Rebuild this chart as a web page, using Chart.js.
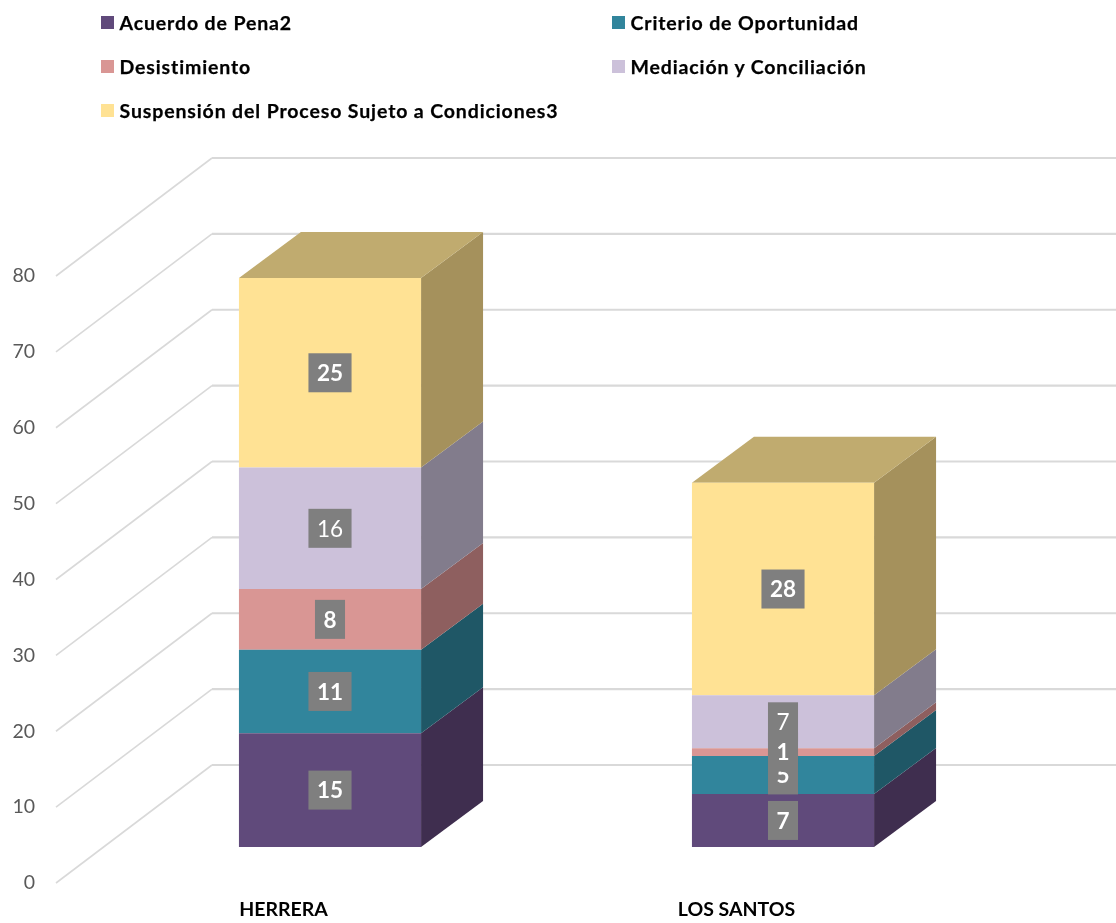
<!DOCTYPE html>
<html lang="es">
<head>
<meta charset="utf-8">
<title>Salidas alternas por provincia</title>
<script src="https://cdn.jsdelivr.net/npm/chart.js@4"></script>
<style>
    html, body { margin: 0; padding: 0; background: #fff; }
    #contenedor { position: relative; width: 1116px; height: 923px; overflow: hidden; }
    #grafico { position: absolute; left: 0; top: 0; }
    #leyenda {
        position: absolute; left: 101px; top: 1px;
        display: grid; grid-template-columns: 511px 500px; grid-auto-rows: 43.7px;
        font: 700 19.5px Lato, sans-serif; letter-spacing: 0.87px; color: #000;
        -webkit-text-stroke: 0.25px #000;
    }
    #leyenda div { display: flex; align-items: center; white-space: nowrap; }
    #leyenda span { display: inline-block; width: 13px; height: 13px; margin-right: 5.5px; flex: none; }
</style>
</head>
<body>
<div id="contenedor">
    <canvas id="grafico" width="1116" height="923"></canvas>
    <div id="leyenda"></div>
</div>
<script>
const provincias = ['HERRERA', 'LOS SANTOS'];
const series = ['Acuerdo de Pena2', 'Criterio de Oportunidad', 'Desistimiento', 'Mediación y Conciliación', 'Suspensión del Proceso Sujeto a Condiciones3'];
const acuerdo = [15, 7];
const criterio = [11, 5];
const desistimiento = [8, 1];
const mediacion = [16, 7];
const suspension = [25, 28];
const ticksY = [0, 10, 20, 30, 40, 50, 60, 70, 80];

const colores = ['#604a7b', '#31859c', '#d99694', '#ccc1da', '#ffe294'];
const coloresLado = ['#3f2e4f', '#1f5766', '#8e5f5f', '#827c8c', '#a5915c'];
const colorTapa = '#c0ab6f';
const pesoEtiqueta = ['bold', 'bold', 'bold', 'normal', 'bold'];

// Profundidad de la perspectiva
const fondoX = 62, fondoY = -46;
const paredIzq = 56, paredFondo = 212, paredDer = 1116;

const perspectiva = {
    id: 'perspectiva',
    beforeDatasetsDraw(chart) {
        const ctx = chart.ctx;
        const y = chart.scales.y;

        // Lineas del lateral y de la pared del fondo
        ctx.save();
        ctx.strokeStyle = '#d9d9d9';
        ticksY.forEach((t) => {
            const py = y.getPixelForValue(t);
            ctx.lineWidth = 1.6;
            ctx.beginPath();
            ctx.moveTo(paredIzq, py);
            ctx.lineTo(paredFondo, py - 118);
            ctx.stroke();
            ctx.lineWidth = 2.2;
            ctx.beginPath();
            ctx.moveTo(paredFondo, py - 118);
            ctx.lineTo(paredDer, py - 118);
            ctx.stroke();
        });

        // Caras laterales y tapa
        chart.data.datasets.forEach((ds, i) => {
            chart.getDatasetMeta(i).data.forEach((bar) => {
                const der = bar.x + bar.width / 2;
                const izq = bar.x - bar.width / 2;
                ctx.fillStyle = coloresLado[i];
                ctx.beginPath();
                ctx.moveTo(der, bar.base);
                ctx.lineTo(der + fondoX, bar.base + fondoY);
                ctx.lineTo(der + fondoX, bar.y + fondoY);
                ctx.lineTo(der, bar.y);
                ctx.closePath();
                ctx.fill();
                if (i === chart.data.datasets.length - 1) {
                    ctx.fillStyle = colorTapa;
                    ctx.beginPath();
                    ctx.moveTo(izq, bar.y);
                    ctx.lineTo(izq + fondoX, bar.y + fondoY);
                    ctx.lineTo(der + fondoX, bar.y + fondoY);
                    ctx.lineTo(der, bar.y);
                    ctx.closePath();
                    ctx.fill();
                }
            });
        });
        ctx.restore();
    },
    afterDatasetsDraw(chart) {
        const ctx = chart.ctx;
        ctx.save();
        ctx.textAlign = 'center';
        ctx.textBaseline = 'middle';
        chart.data.datasets.forEach((ds, i) => {
            ctx.font = pesoEtiqueta[i] + ' 22.5px Lato, sans-serif';
            chart.getDatasetMeta(i).data.forEach((bar, j) => {
                const texto = String(ds.data[j]);
                const ancho = ctx.measureText(texto).width + 17;
                const centroY = (bar.y + bar.base) / 2;
                ctx.fillStyle = '#7f7f7f';
                ctx.fillRect(bar.x - ancho / 2, centroY - 19.5, ancho, 39);
                ctx.fillStyle = '#fff';
                ctx.fillText(texto, bar.x, centroY + 1);
            });
        });
        ctx.restore();
    }
};

const datos = [acuerdo, criterio, desistimiento, mediacion, suspension];

new Chart(document.getElementById('grafico').getContext('2d'), {
    type: 'bar',
    data: {
        labels: provincias,
        datasets: series.map((nombre, i) => ({
            label: nombre,
            data: datos[i],
            backgroundColor: colores[i],
            yAxisID: 'barras',
            barPercentage: 1,
            categoryPercentage: 0.402
        }))
    },
    plugins: [perspectiva],
    options: {
        responsive: false,
        maintainAspectRatio: false,
        animation: false,
        layout: { padding: { top: 276, right: 106.5, bottom: 0, left: 0 } },
        plugins: { legend: { display: false }, tooltip: { enabled: false } },
        scales: {
            x: {
                stacked: true,
                grid: { display: false, drawTicks: false },
                border: { display: false },
                afterFit(scale) { scale.height = 40; },
                ticks: {
                    labelOffset: -46.5,
                    padding: 15.3,
                    maxRotation: 0,
                    color: '#000',
                    font: { family: 'Lato, sans-serif', size: 19.5, weight: 'bold' }
                }
            },
            y: {
                min: 0,
                max: 80,
                grid: { display: false, drawTicks: false },
                border: { display: false },
                // El padding de los ticks no debe comerse el area del grafico
                afterFit(scale) {
                    scale.width = 103.5;
                    scale.paddingTop = 0;
                    scale.paddingBottom = 0;
                },
                afterBuildTicks(scale) { scale.ticks = ticksY.map((v) => ({ value: v })); },
                ticks: {
                    padding: 68.5,
                    color: '#595959',
                    font: { family: 'Lato, sans-serif', size: 19.5 }
                }
            },
            // Eje oculto: el plano frontal de las barras esta 36 px sobre el eje visible
            barras: {
                display: false,
                stacked: true,
                min: -4.745,
                max: 75.255
            }
        }
    }
});

// Leyenda en dos columnas
const leyenda = document.getElementById('leyenda');
series.forEach((nombre, i) => {
    const item = document.createElement('div');
    const cuadro = document.createElement('span');
    cuadro.style.background = colores[i];
    item.appendChild(cuadro);
    item.appendChild(document.createTextNode(nombre));
    leyenda.appendChild(item);
});
</script>
</body>
</html>
